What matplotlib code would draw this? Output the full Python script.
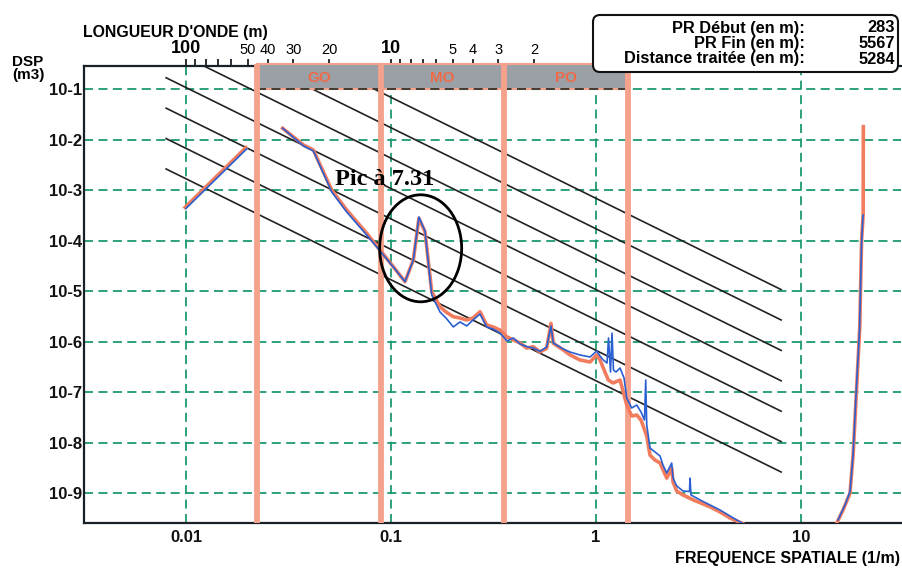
import matplotlib
matplotlib.use("Agg")
import matplotlib.pyplot as plt
from matplotlib.patches import Rectangle, Ellipse, FancyBboxPatch
from matplotlib.ticker import NullLocator, NullFormatter, FixedLocator
import numpy as np

plt.rcParams['font.family'] = ['Liberation Sans', 'DejaVu Sans']

# ---- spectral density, spatial frequency (1/m) vs DSP (m3) ----
left_f = [0.0099, 0.0196]
left_d = [4.6e-4, 7.0e-3]

salmon_f = [0.0296, 0.0374, 0.0418, 0.0514, 0.0608, 0.0761, 0.0884, 0.1026, 0.117, 0.1285,
            0.1368, 0.1465, 0.158, 0.1734, 0.1855, 0.2013, 0.2171, 0.234, 0.2512, 0.2717,
            0.293, 0.3145, 0.3401, 0.368, 0.395, 0.4259, 0.4592, 0.4944, 0.533, 0.5746,
            0.6031, 0.6188, 0.6926, 0.7466, 0.8356, 0.9348, 1.008, 1.046, 1.085, 1.148,
            1.212, 1.31, 1.412, 1.493, 1.58, 1.658, 1.768, 1.834, 1.94, 2.052,
            2.213, 2.34, 2.375, 2.475, 2.657, 2.982, 3.599, 4.026, 4.505, 5.213]
salmon_d = [1.69e-2, 7.9e-3, 6.28e-3, 1.01e-3, 4.07e-4, 1.41e-4, 6.57e-5, 3.07e-5, 1.55e-5, 4.17e-5,
            2.79e-4, 1.51e-4, 9.8e-6, 4.95e-6, 3.89e-6, 3.14e-6, 2.96e-6, 2.7e-6, 2.96e-6, 3.94e-6,
            2.15e-6, 1.97e-6, 1.71e-6, 1.25e-6, 1.09e-6, 9.5e-7, 7.5e-7, 8.0e-7, 6.3e-7, 7.4e-7,
            2.32e-6, 9.3e-7, 6.9e-7, 5.5e-7, 4.36e-7, 3.98e-7, 5.5e-7, 4.36e-7, 3.03e-7, 1.75e-7,
            1.53e-7, 1.75e-7, 5.6e-8, 3.39e-8, 3.55e-8, 2.83e-8, 1.36e-8, 5.7e-9, 4.56e-9, 3.98e-9,
            2.0e-9, 3.17e-9, 1.67e-9, 1.11e-9, 9.25e-10, 7.4e-10, 5.4e-10, 4.26e-10, 3.24e-10, 2.5e-10]

blue_f = [0.0296, 0.0374, 0.0418, 0.0514, 0.0608, 0.0761, 0.0884, 0.1026, 0.117, 0.1285,
          0.1368, 0.1465, 0.158, 0.1734, 0.1855, 0.2013, 0.2171, 0.234, 0.2512, 0.2717,
          0.293, 0.3145, 0.3401, 0.368, 0.395, 0.4259, 0.4592, 0.4944, 0.533, 0.5746,
          0.6031, 0.6188, 0.6926, 0.7466, 0.8356, 0.9348, 1.008, 1.046, 1.085, 1.132,
          1.151, 1.177, 1.197, 1.217, 1.252, 1.31, 1.37, 1.412, 1.493, 1.58,
          1.658, 1.724, 1.748, 1.768, 1.834, 1.94, 2.052, 2.122, 2.213, 2.34,
          2.375, 2.475, 2.657, 2.858, 2.874, 2.906, 3.216, 3.599, 4.026, 4.505, 5.213]
blue_d = [1.69e-2, 7.54e-3, 6.0e-3, 9.25e-4, 3.72e-4, 1.30e-4, 6.28e-5, 3.03e-5, 1.55e-5, 4.17e-5,
          2.96e-4, 1.56e-4, 8.45e-6, 3.89e-6, 2.96e-6, 1.97e-6, 2.47e-6, 2.06e-6, 2.7e-6, 3.55e-6,
          1.97e-6, 1.79e-6, 1.49e-6, 1.04e-6, 1.19e-6, 9.05e-7, 8.0e-7, 7.53e-7, 6.47e-7, 7.9e-7,
          2.06e-6, 9.47e-7, 7.2e-7, 6.28e-7, 5.48e-7, 5.0e-7, 6.57e-7, 5.23e-7, 4.36e-7, 3.8e-7,
          1.19e-6, 2.52e-7, 1.49e-6, 2.76e-7, 2.52e-7, 3.03e-7, 1.92e-7, 7.71e-8, 4.89e-8, 5.6e-8,
          4.07e-8, 2.83e-8, 1.75e-7, 2.25e-8, 7.89e-9, 6.57e-9, 5.5e-9, 3.63e-9, 2.52e-9, 3.98e-9,
          2.0e-9, 1.4e-9, 1.11e-9, 1.085e-9, 2.0e-9, 9.25e-10, 7.4e-10, 5.87e-10, 4.67e-10, 3.55e-10, 2.5e-10]

# high-frequency tail
salmon_tail_f = [14.93, 16.03, 17.34, 17.98, 18.62, 19.35, 19.75, 20.10, 20.12, 20.14]
salmon_tail_d = [2.55e-10, 4.67e-10, 1.0e-9, 6.2e-9, 9.55e-8, 1.97e-6, 1.04e-4, 3.24e-4, 2.52e-3, 1.82e-2]
blue_tail_f = [15.15, 16.39, 17.34, 17.94, 18.55, 19.30, 19.73, 20.06]
blue_tail_d = [2.96e-10, 5.87e-10, 1.085e-9, 5.73e-9, 8.84e-8, 1.71e-6, 8.25e-5, 3.24e-4]

# reference slopes DSP = C * f^-2 (classes spaced by a factor 4)
class_coeffs = [1.69e-7 * 4 ** k for k in range(7)]
class_f_range = [0.008, 8.0]

# wavelength bands (m)
band_names = ['GO', 'MO', 'PO']
band_limits_m = [44.8, 11.2, 2.8, 0.7]

peak_wavelength = 7.31

# top axis: wavelength ticks (m)
wl_major = [100, 50, 40, 30, 20, 10, 5, 4, 3, 2]
wl_minor = [90, 80, 70, 60, 9, 8, 7, 6]

y_decades = list(range(1, 10))
x_ticks = [0.01, 0.1, 1, 10]
x_ticklabels = ['0.01', '0.1', '1', '10']

info_labels = ['PR Début (en m):', 'PR Fin (en m):', 'Distance traitée (en m):']
info_values = ['283', '5567', '5284']

# ---- colours ----
GREEN = '#1d9a6e'
SALMON = '#f27c5e'
SALMON_BAR = '#f5a28c'
BLUE = '#2a5fd2'
DARK = '#1a2028'

fig = plt.figure(figsize=(9.02, 5.68), dpi=100)
ax = fig.add_axes([84 / 902, 45 / 568, 817 / 902, 457 / 568])
ax.set_xscale('log')
ax.set_yscale('log')
ax.set_xlim(10 ** -2.4976, 10 ** 1.4878)
ax.set_ylim(10 ** -9.588, 10 ** -0.539)

# grid
for k in y_decades:
    ax.axhline(10.0 ** -k, color=GREEN, lw=1.3, ls=(0, (5, 3)), zorder=1)
for xv in x_ticks:
    ax.axvline(xv, color=GREEN, lw=1.3, ls=(0, (5, 3)), zorder=1)

# reference lines
fr = np.array(class_f_range)
for c in class_coeffs:
    ax.plot(fr, c * fr ** -2, color='#222222', lw=1.2, zorder=2)

# wavelength bands
band_top = 10 ** -0.49
band_f = [1.0 / w for w in band_limits_m]
for i, name in enumerate(band_names):
    f0, f1 = band_f[i], band_f[i + 1]
    ax.add_patch(Rectangle((f0, 0.1), f1 - f0, band_top - 0.1, facecolor='#9aa0a6',
                           edgecolor=SALMON_BAR, lw=1.5, zorder=3, clip_on=False))
    ax.text(np.sqrt(f0 * f1), 10 ** -0.77, name, color='#f06a48', fontsize=11,
            fontweight='bold', ha='center', va='center', zorder=3.2)
ax.plot([band_f[0], band_f[-1]], [0.1, 0.1], color='#333328', lw=1.3,
        ls=(0, (5, 3)), zorder=3.1)
y_lo = ax.get_ylim()[0]
for fb in band_f:
    ax.plot([fb, fb], [y_lo, band_top], color=SALMON_BAR, lw=4.2, zorder=3.3,
            clip_on=False, solid_capstyle='butt')

# spectra
ax.plot(left_f, left_d, color=SALMON, lw=2.6, zorder=4)
ax.plot([f * 1.01 for f in left_f], [d * 0.95 for d in left_d], color=BLUE, lw=1.2, zorder=5)
ax.plot(salmon_f, salmon_d, color=SALMON, lw=2.6, zorder=4)
ax.plot(blue_f, blue_d, color=BLUE, lw=1.2, zorder=5)
ax.plot(salmon_tail_f, salmon_tail_d, color=SALMON, lw=2.6, zorder=4)
ax.plot(blue_tail_f, blue_tail_d, color=BLUE, lw=1.2, zorder=5)

# peak annotation
peak_f = 1.0 / peak_wavelength
cx, cy = ax.transAxes.inverted().transform(ax.transData.transform((peak_f * 1.02, 7.1e-5)))
ax.add_patch(Ellipse((cx, cy), 82 / 817, 107 / 457, transform=ax.transAxes, fill=False,
                     lw=2.0, ec='black', zorder=6))
ax.text(0.0533, 1.6e-3, 'Pic à %.2f' % peak_wavelength, family=['Liberation Serif', 'DejaVu Serif'],
        fontsize=17.5, fontweight='bold', ha='left', va='center', zorder=6)

# axes styling
for side in ('left', 'bottom', 'top'):
    ax.spines[side].set_color(DARK)
    ax.spines[side].set_linewidth(1.6)
ax.spines['right'].set_visible(False)

ax.set_yticks([10.0 ** -k for k in y_decades])
ax.set_yticklabels(['10-%d' % k for k in y_decades])
ax.yaxis.set_minor_locator(NullLocator())
ax.set_xticks(x_ticks)
ax.set_xticklabels(x_ticklabels)
ax.xaxis.set_minor_locator(NullLocator())
ax.tick_params(axis='y', length=0, pad=1, labelsize=12)
ax.tick_params(axis='x', length=0, pad=5, labelsize=12)
for lab in ax.get_xticklabels() + ax.get_yticklabels():
    lab.set_fontweight('bold')
    lab.set_color('#111111')

# wavelength axis on top
sec = ax.secondary_xaxis('top')
sec.set_xticks([1.0 / w for w in wl_major])
sec.set_xticklabels([str(w) for w in wl_major])
sec.xaxis.set_minor_locator(FixedLocator([1.0 / w for w in wl_minor]))
sec.xaxis.set_minor_formatter(NullFormatter())
sec.tick_params(axis='x', which='both', direction='out', length=5, width=1.3, color=DARK,
                pad=1.5, labelsize=10.5)
sec.spines['top'].set_visible(False)
for lab, w in zip(sec.get_xticklabels(), wl_major):
    if w in (100, 10):
        lab.set_fontweight('bold')
        lab.set_fontsize(13)

# figure-level texts in pixel coordinates
ov = fig.add_axes([0, 0, 1, 1], facecolor='none')
ov.set_xlim(0, 902)
ov.set_ylim(568, 0)
ov.axis('off')
ov.text(83, 32, "LONGUEUR D'ONDE (m)", fontsize=11.4, fontweight='bold', ha='left', va='center')
ov.text(900, 559, 'FREQUENCE SPATIALE (1/m)', fontsize=11.5, fontweight='bold', ha='right', va='center')
ov.text(12, 62, 'DSP', fontsize=11, fontweight='bold', ha='left', va='center')
ov.text(12, 75.5, '(m3)', fontsize=11, fontweight='bold', ha='left', va='center')

ov.add_patch(FancyBboxPatch((593, 15), 305, 57, boxstyle='round,pad=0,rounding_size=7',
                            facecolor='white', edgecolor='#111111', lw=1.5))
for i, (lab, val) in enumerate(zip(info_labels, info_values)):
    yy = 28 + i * 15.5
    ov.text(805, yy, lab, fontsize=11.8, fontweight='bold', ha='right', va='center')
    ov.text(895, yy, val, fontsize=11.8, fontweight='bold', ha='right', va='center')

fig.savefig('out.png', dpi=100)
